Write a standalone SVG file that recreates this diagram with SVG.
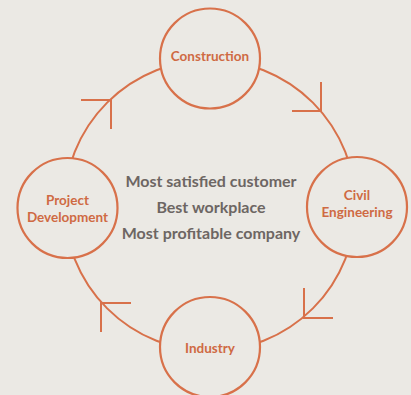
<svg xmlns="http://www.w3.org/2000/svg" width="411" height="395" viewBox="0 0 411 395">
  <style>
    .ring { fill: none; stroke: #d8714a; stroke-width: 2; }
    .node { fill: #ebe9e4; stroke: #d8714a; stroke-width: 2.2; }
    .arrow { fill: none; stroke: #d8714a; stroke-width: 2; stroke-linecap: butt; }
    .label { font-family: "Lato", "Liberation Sans", sans-serif; font-weight: 700; font-size: 13.5px; fill: #cf6a43; text-anchor: middle; }
    .goal { font-family: "Lato", "Liberation Sans", sans-serif; font-weight: 700; font-size: 16px; fill: #6d6663; text-anchor: middle; }
  </style>
  <rect width="411" height="395" fill="#ebe9e4"/>

  <g id="connectors">
    <circle class="ring" cx="210" cy="205.5" r="145.5"/>
    <!-- open chevron arrowheads along the cycle -->
    <path class="arrow" d="M81 100 H111 V129"/>
    <path class="arrow" d="M292 111 H321 V82"/>
    <path class="arrow" d="M304 288 V318 H333"/>
    <path class="arrow" d="M101 332 V303 H131"/>
  </g>

  <g id="construction">
    <circle class="node" cx="210" cy="58.5" r="50"/>
    <text class="label" x="210" y="61">Construction</text>
  </g>

  <g id="civil-engineering">
    <circle class="node" cx="357" cy="207" r="50"/>
    <text class="label" x="357" y="200">Civil</text>
    <text class="label" x="357" y="216.5">Engineering</text>
  </g>

  <g id="industry">
    <circle class="node" cx="210" cy="347" r="50"/>
    <text class="label" x="210" y="353">Industry</text>
  </g>

  <g id="project-development">
    <circle class="node" cx="67.5" cy="208" r="50"/>
    <text class="label" x="67.5" y="204.5">Project</text>
    <text class="label" x="67.5" y="221.5">Development</text>
  </g>

  <g id="goals">
    <text class="goal" x="211" y="187">Most satisfied customer</text>
    <text class="goal" x="211" y="213">Best workplace</text>
    <text class="goal" x="211" y="239">Most profitable company</text>
  </g>
</svg>
